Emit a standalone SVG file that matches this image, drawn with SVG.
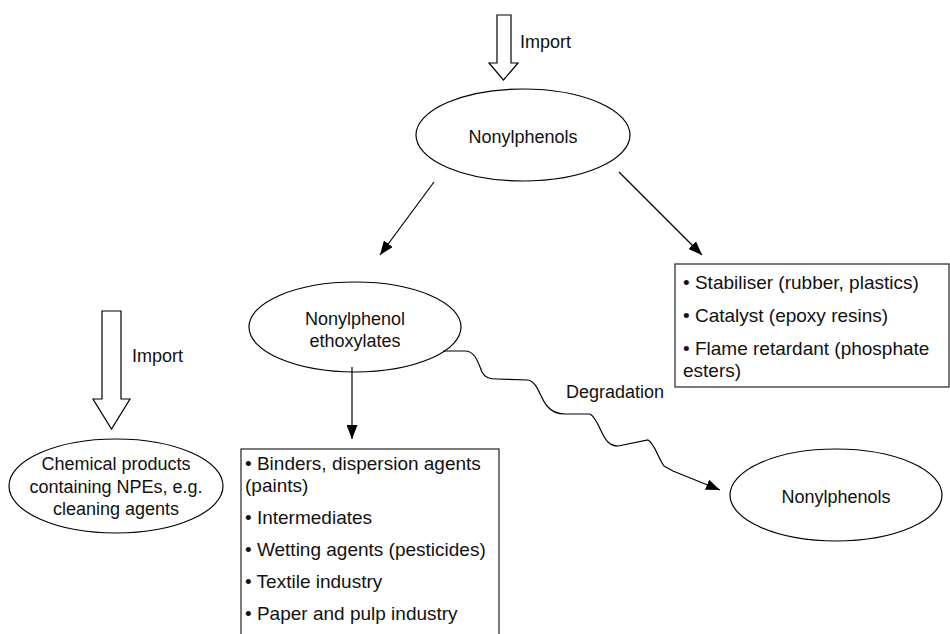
<svg xmlns="http://www.w3.org/2000/svg" width="950" height="634" viewBox="0 0 950 634">
<defs>
<marker id="ah" markerWidth="14" markerHeight="11" refX="14" refY="5.5" orient="auto" markerUnits="userSpaceOnUse">
<path d="M0,0 L14,5.5 L0,11 z" fill="#000"/>
</marker>
<style>
text{font-family:"Liberation Sans",Arial,sans-serif;font-size:18px;fill:#111}
.c{text-anchor:middle}
.b{font-size:19px}
.sh{fill:#fff;stroke:#000;stroke-width:1.2}
.bx{fill:#fff;stroke:#333;stroke-width:1.3}
.ln{fill:none;stroke:#000;stroke-width:1.2}
</style>
</defs>
<rect width="950" height="634" fill="#fff"/>

<g id="import-top">
<polygon class="sh" points="497,15 511,15 511,63 518,63 503.5,80 489,63 497,63"/>
<text x="520" y="48">Import</text>
</g>

<g id="import-left">
<polygon class="sh" points="102,311 121,311 121,399 130,399 111.5,429 93,399 102,399"/>
<text x="132" y="362">Import</text>
</g>

<g id="nonylphenols-top">
<ellipse class="sh" cx="523" cy="135" rx="107" ry="46"/>
<text class="c" x="523" y="143">Nonylphenols</text>
</g>

<g id="npe">
<ellipse class="sh" cx="355" cy="327" rx="106" ry="45"/>
<text class="c" x="355" y="325">Nonylphenol</text>
<text class="c" x="355" y="347">ethoxylates</text>
</g>

<g id="chemical-products">
<ellipse class="sh" cx="116" cy="486" rx="107" ry="47"/>
<text class="c" x="116" y="470">Chemical products</text>
<text class="c" x="116" y="493">containing NPEs, e.g.</text>
<text class="c" x="116" y="515">cleaning agents</text>
</g>

<g id="nonylphenols-bottom">
<ellipse class="sh" cx="836" cy="495" rx="106" ry="46"/>
<text class="c" x="836" y="503">Nonylphenols</text>
</g>

<g id="uses-np">
<rect class="bx" x="675" y="264" width="274" height="123"/>
<text class="b" x="683" y="289">• Stabiliser (rubber, plastics)</text>
<text class="b" x="683" y="322">• Catalyst (epoxy resins)</text>
<text class="b" x="683" y="355">• Flame retardant (phosphate</text>
<text class="b" x="683" y="377">esters)</text>
</g>

<g id="uses-npe">
<rect class="bx" x="241" y="449" width="258" height="190"/>
<text class="b" x="245" y="470">• Binders, dispersion agents</text>
<text class="b" x="245" y="492">(paints)</text>
<text class="b" x="245" y="524">• Intermediates</text>
<text class="b" x="245" y="556">• Wetting agents (pesticides)</text>
<text class="b" x="245" y="588">• Textile industry</text>
<text class="b" x="245" y="620">• Paper and pulp industry</text>
</g>

<g id="connectors">
<line class="ln" x1="434" y1="182" x2="380" y2="255" marker-end="url(#ah)"/>
<line class="ln" x1="619" y1="172" x2="702" y2="255" marker-end="url(#ah)"/>
<line class="ln" x1="352" y1="367" x2="352" y2="439" marker-end="url(#ah)"/>
<path class="ln" d="M443,351 L465,351 C475,351 478,362 482,372 C485,378 490,379 497,379 L528,380 C538,382 540,398 547,406 C552,412 558,414 565,414 L590,414 C598,418 601,436 608,442 C611,445 614,446 618,446 L648,440 C655,444 658,458 664,466 L673,471 L720,490" marker-end="url(#ah)"/>
<text x="566" y="398">Degradation</text>
</g>
</svg>
